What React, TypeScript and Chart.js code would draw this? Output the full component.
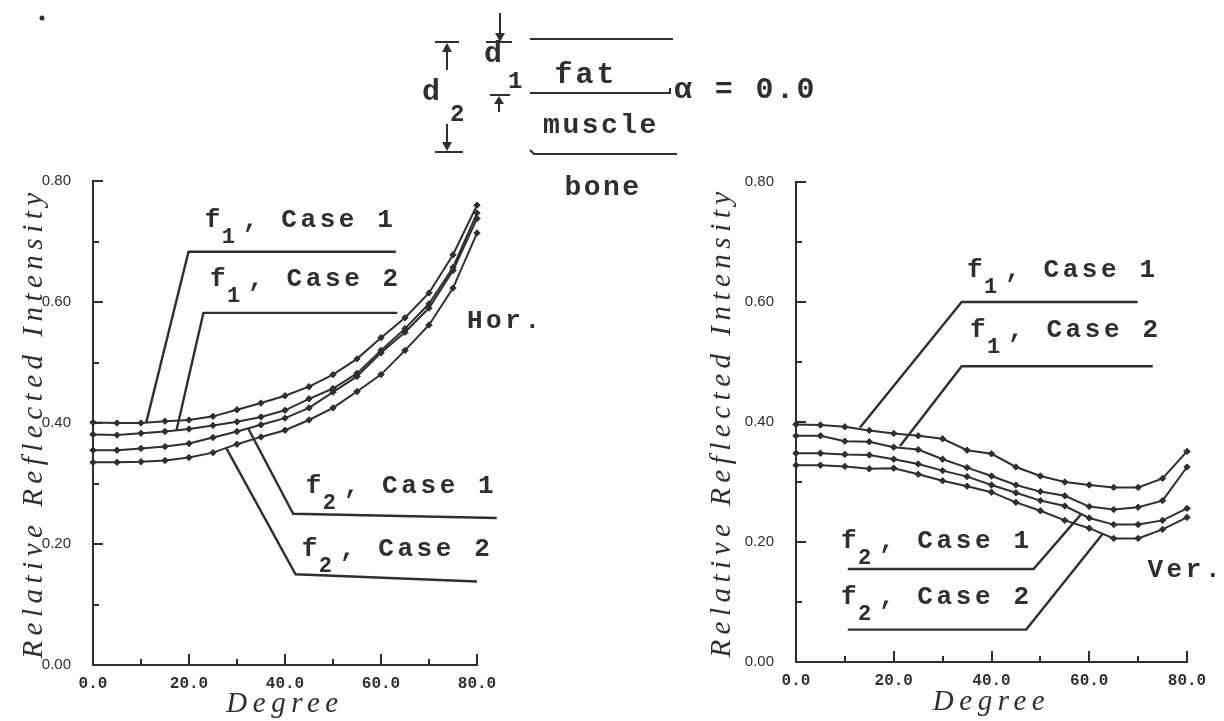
import React, { useEffect, useRef } from "react";
import { Chart, registerables } from "chart.js";

Chart.register(...registerables);

// ---------------- data ----------------
const angles = [0, 5, 10, 15, 20, 25, 30, 35, 40, 45, 50, 55, 60, 65, 70, 75, 80];

// Horizontal polarisation (left panel)
const horF1Case1 = [0.401, 0.400, 0.400, 0.403, 0.405, 0.411, 0.422, 0.433, 0.445, 0.460, 0.480, 0.506, 0.541, 0.574, 0.615, 0.678, 0.760];
const horF1Case2 = [0.381, 0.380, 0.383, 0.386, 0.390, 0.396, 0.402, 0.410, 0.421, 0.440, 0.457, 0.482, 0.520, 0.556, 0.597, 0.657, 0.747];
const horF2Case1 = [0.355, 0.355, 0.358, 0.361, 0.366, 0.376, 0.386, 0.397, 0.408, 0.425, 0.451, 0.477, 0.516, 0.550, 0.590, 0.652, 0.738];
const horF2Case2 = [0.335, 0.335, 0.336, 0.338, 0.343, 0.351, 0.365, 0.377, 0.388, 0.405, 0.425, 0.452, 0.480, 0.520, 0.562, 0.623, 0.714];

// Vertical polarisation (right panel)
const verF1Case1 = [0.396, 0.395, 0.392, 0.386, 0.381, 0.377, 0.372, 0.353, 0.347, 0.325, 0.310, 0.300, 0.295, 0.291, 0.291, 0.306, 0.351];
const verF1Case2 = [0.377, 0.377, 0.368, 0.367, 0.358, 0.354, 0.338, 0.324, 0.310, 0.295, 0.284, 0.277, 0.259, 0.254, 0.258, 0.269, 0.325];
const verF2Case1 = [0.348, 0.348, 0.346, 0.345, 0.338, 0.330, 0.319, 0.309, 0.295, 0.282, 0.269, 0.260, 0.240, 0.229, 0.229, 0.236, 0.256];
const verF2Case2 = [0.328, 0.328, 0.326, 0.322, 0.323, 0.313, 0.302, 0.293, 0.283, 0.266, 0.252, 0.236, 0.223, 0.206, 0.206, 0.221, 0.241];

// leader lines of the callouts, in (degree, intensity)
const horLeaderF1Case1 = [[11.1, 0.401], [19.9, 0.683], [63.1, 0.683]];
const horLeaderF1Case2 = [[17.4, 0.388], [23.0, 0.582], [63.4, 0.582]];
const horLeaderF2Case1 = [[32.4, 0.390], [41.7, 0.250], [84.1, 0.243]];
const horLeaderF2Case2 = [[27.8, 0.358], [42.2, 0.150], [80.0, 0.138]];

const verLeaderF1Case1 = [[13.1, 0.391], [33.9, 0.600], [69.9, 0.600]];
const verLeaderF1Case2 = [[21.3, 0.360], [33.9, 0.493], [73.0, 0.493]];
const verLeaderF2Case1 = [[10.6, 0.155], [48.6, 0.155], [58.3, 0.246]];
const verLeaderF2Case2 = [[10.6, 0.054], [47.1, 0.054], [62.8, 0.214]];

// tick settings
const xMin = 0, xMax = 80, xMajorStep = 20, xMinorStep = 10;
const yMin = 0, yMax = 0.8, yMajorStep = 0.2, yMinorStep = 0.1;

// texts
const yTitle = "Relative Reflected Intensity";
const xTitle = "Degree";

// callout labels (anchor = left of "f", baseline), in data units
const horLabels = [
  { x: 23.3, y: 0.724, sub: "1", rest: ", Case 1" },
  { x: 24.4, y: 0.626, sub: "1", rest: ", Case 2" },
  { x: 44.3, y: 0.284, sub: "2", rest: ", Case 1" },
  { x: 43.5, y: 0.180, sub: "2", rest: ", Case 2" },
];
const horTag = { x: 77.9, y: 0.557, text: "Hor." };

const verLabels = [
  { x: 35.0, y: 0.642, sub: "1", rest: ", Case 1" },
  { x: 35.6, y: 0.542, sub: "1", rest: ", Case 2" },
  { x: 9.2, y: 0.190, sub: "2", rest: ", Case 1" },
  { x: 9.2, y: 0.096, sub: "2", rest: ", Case 2" },
];
const verTag = { x: 71.9, y: 0.142, text: "Ver." };

// ---------------- styling ----------------
const INK = "#2f2f2f";
const MONO = '"Liberation Mono", "Courier New", monospace';
const SERIF = '"Liberation Serif", "DejaVu Serif", serif';

const decorPlugin = {
  id: "decor",
  afterDraw(chart: any, _args: any, o: any) {
    const ctx = chart.ctx as CanvasRenderingContext2D;
    const xs = chart.scales.x;
    const ys = chart.scales.y;
    const { left, right, top, bottom } = chart.chartArea;
    ctx.save();
    ctx.strokeStyle = INK;
    ctx.fillStyle = INK;
    ctx.lineWidth = 2;
    ctx.lineCap = "butt";

    // inward ticks on y
    for (let v = yMinorStep; v <= yMax + 1e-9; v += yMinorStep) {
      const py = Math.round(ys.getPixelForValue(v));
      const major = Math.abs(v / yMajorStep - Math.round(v / yMajorStep)) < 1e-6;
      ctx.beginPath();
      ctx.moveTo(left, py);
      ctx.lineTo(left + (major ? 10 : 6), py);
      ctx.stroke();
    }
    // inward ticks on x
    for (let d = xMinorStep; d <= xMax + 1e-9; d += xMinorStep) {
      const px = Math.round(xs.getPixelForValue(d));
      const major = d % xMajorStep === 0;
      ctx.beginPath();
      ctx.moveTo(px, bottom);
      ctx.lineTo(px, bottom - (major ? 11 : 6));
      ctx.stroke();
    }

    // axis titles
    (ctx as any).letterSpacing = "5.5px";
    ctx.font = `italic 29px ${SERIF}`;
    ctx.textBaseline = "alphabetic";
    ctx.textAlign = "center";
    ctx.save();
    ctx.translate(left - o.titleGap, (top + bottom) / 2);
    ctx.rotate(-Math.PI / 2);
    ctx.fillText(yTitle, 0, 0);
    ctx.restore();
    ctx.fillText(xTitle, (left + right) / 2, bottom + o.xTitleDrop);

    // callout labels
    ctx.textAlign = "left";
    (ctx as any).letterSpacing = "3.6px";
    for (const l of o.labels) {
      const px = xs.getPixelForValue(l.x);
      const py = ys.getPixelForValue(l.y);
      ctx.font = `bold 26px ${MONO}`;
      ctx.fillText("f", px, py);
      ctx.font = `bold 22px ${MONO}`;
      ctx.fillText(l.sub, px + 17, py + 16);
      ctx.font = `bold 26px ${MONO}`;
      ctx.fillText(l.rest, px + 38, py);
    }
    if (o.tag) {
      ctx.font = `bold 26px ${MONO}`;
      ctx.fillText(o.tag.text, xs.getPixelForValue(o.tag.x), ys.getPixelForValue(o.tag.y));
    }
    ctx.restore();
  },
};

function makeConfig(series: number[][], leaders: number[][][], p: any) {
  const curveSets = series.map((s) => ({
    data: angles.map((a, i) => ({ x: a, y: s[i] })),
    borderColor: INK,
    backgroundColor: INK,
    borderWidth: 2,
    pointStyle: "rectRot",
    pointRadius: 3.2,
    pointBorderWidth: 1,
    pointBackgroundColor: INK,
    pointBorderColor: INK,
    tension: 0,
    clip: false,
  }));
  const leaderSets = leaders.map((l) => ({
    data: l.map(([x, y]) => ({ x, y })),
    borderColor: INK,
    borderWidth: 2.4,
    pointRadius: 0,
    tension: 0,
    clip: false,
  }));
  return {
    type: "line",
    data: { datasets: [...curveSets, ...leaderSets] },
    plugins: [decorPlugin],
    options: {
      animation: false,
      responsive: false,
      maintainAspectRatio: false,
      events: [],
      layout: { padding: { left: 0, top: p.top, right: p.right, bottom: p.bottom } },
      plugins: {
        legend: { display: false },
        tooltip: { enabled: false },
        decor: { titleGap: p.titleGap, xTitleDrop: p.xTitleDrop, labels: p.labels, tag: p.tag },
      },
      scales: {
        x: {
          type: "linear",
          min: xMin,
          max: xMax,
          afterFit: (s: any) => { s.height = 40; },
          border: { display: true, color: INK, width: 2 },
          grid: { display: false, drawTicks: false },
          ticks: {
            stepSize: xMajorStep,
            autoSkip: false,
            maxRotation: 0,
            padding: 9,
            color: INK,
            font: { family: "Liberation Mono", size: 16, weight: "bold" },
            callback: (v: any) => Number(v).toFixed(1),
          },
        },
        y: {
          type: "linear",
          min: yMin,
          max: yMax,
          afterFit: (s: any) => { s.width = p.yWidth; },
          border: { display: true, color: INK, width: 2 },
          grid: { display: false, drawTicks: false },
          ticks: {
            stepSize: yMajorStep,
            autoSkip: false,
            padding: 22,
            color: INK,
            font: { family: "Liberation Sans", size: 15 },
            callback: (v: any) => Number(v).toFixed(2),
          },
        },
      },
    },
  };
}

function Plot({ cfg, left, width }: { cfg: () => any; left: number; width: number }) {
  const ref = useRef<HTMLCanvasElement | null>(null);
  useEffect(() => {
    const chart = new Chart(ref.current as HTMLCanvasElement, cfg());
    return () => chart.destroy();
  }, []);
  return (
    <canvas
      ref={ref}
      width={width}
      height={721}
      style={{ position: "absolute", left, top: 0, width, height: 721 }}
    />
  );
}

function Diagram() {
  const t = { fontFamily: MONO, fontWeight: 700, fill: INK } as any;
  return (
    <svg width={1224} height={721} style={{ position: "absolute", left: 0, top: 0, pointerEvents: "none" }}>
      <g stroke={INK} strokeWidth={2} fill="none">
        <line x1={530} y1={39} x2={673} y2={39} />
        <polyline points="530,93 670,93 670,88" />
        <polyline points="530,150 534,154 677,154" />
        {/* d1 */}
        <line x1={500} y1={13} x2={500} y2={36} />
        <line x1={486} y1={42} x2={512} y2={42} />
        <line x1={490} y1={95} x2={510} y2={95} />
        <line x1={499} y1={101} x2={499} y2={112} />
        {/* d2 */}
        <line x1={435} y1={42} x2={459} y2={42} />
        <line x1={447} y1={48} x2={447} y2={70} />
        <line x1={447} y1={124} x2={447} y2={146} />
        <line x1={435} y1={152} x2={463} y2={152} />
      </g>
      <g fill={INK} stroke="none">
        <polygon points="495,33 505,33 500,42" />
        <polygon points="494,104 504,104 499,96" />
        <polygon points="442,52 452,52 447,43" />
        <polygon points="442,142 452,142 447,151" />
        <circle cx={42} cy={18} r={2.5} />
      </g>
      <text x={586} y={83} textAnchor="middle" letterSpacing={3} fontSize={30} {...t}>fat</text>
      <text x={601} y={133} textAnchor="middle" letterSpacing={2.5} fontSize={28} {...t}>muscle</text>
      <text x={603} y={195} textAnchor="middle" letterSpacing={2.5} fontSize={28} {...t}>bone</text>
      <text x={674} y={98} letterSpacing={2.4} fontSize={30} {...t}>α = 0.0</text>
      <text x={484} y={62} fontSize={30} {...t}>d</text>
      <text x={508} y={88} fontSize={24} {...t}>1</text>
      <text x={422} y={100} fontSize={30} {...t}>d</text>
      <text x={450} y={121} fontSize={24} {...t}>2</text>
    </svg>
  );
}

export default function App() {
  const leftCfg = () =>
    makeConfig(
      [horF1Case1, horF1Case2, horF2Case1, horF2Case2],
      [horLeaderF1Case1, horLeaderF1Case2, horLeaderF2Case1, horLeaderF2Case2],
      { top: 181, right: 640 - 477, bottom: 721 - 665 - 40, yWidth: 93, titleGap: 51, xTitleDrop: 47, labels: horLabels, tag: horTag }
    );
  const rightCfg = () =>
    makeConfig(
      [verF1Case1, verF1Case2, verF2Case1, verF2Case2],
      [verLeaderF1Case1, verLeaderF1Case2, verLeaderF2Case1, verLeaderF2Case2],
      { top: 182, right: 584 - (1187 - 640), bottom: 721 - 662 - 40, yWidth: 156, titleGap: 66, xTitleDrop: 48, labels: verLabels, tag: verTag }
    );
  return (
    <div style={{ position: "absolute", left: 0, top: 0, width: 1224, height: 721, background: "#fff", overflow: "hidden" }}>
      <Plot cfg={leftCfg} left={0} width={640} />
      <Plot cfg={rightCfg} left={640} width={584} />
      <Diagram />
    </div>
  );
}
